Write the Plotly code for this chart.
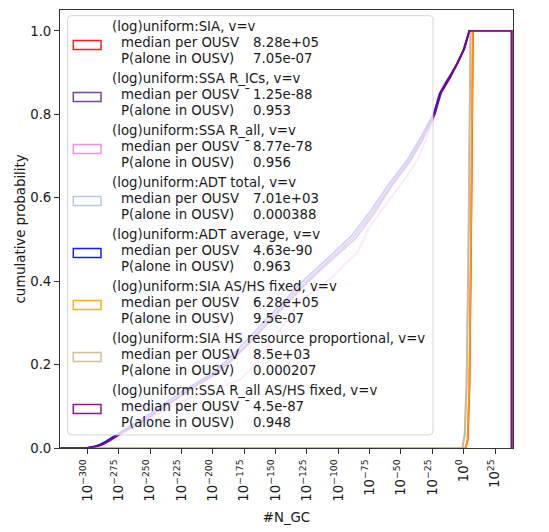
import plotly.graph_objects as go

# cumulative histograms of #N_GC, x values stored as log10(N_GC)
series_names = [
    "(log)uniform:SIA, v=v",
    "(log)uniform:SSA R_ICs, v=v",
    "(log)uniform:SSA R_all, v=v",
    "(log)uniform:ADT total, v=v",
    "(log)uniform:ADT average, v=v",
    "(log)uniform:SIA AS/HS fixed, v=v",
    "(log)uniform:SIA HS resource proportional, v=v",
    "(log)uniform:SSA R_all AS/HS fixed, v=v",
]
median_per_ousv = ["8.28e+05", "1.25e-88", "8.77e-78", "7.01e+03",
                   "4.63e-90", "6.28e+05", "8.5e+03", "4.5e-87"]
p_alone = ["7.05e-07", "0.953", "0.956", "0.000388",
           "0.963", "9.5e-07", "0.000207", "0.948"]
has_macron = [False, True, True, False, False, False, False, True]

# first / last histogram bin edge (log10)
bin_lo, bin_hi = -321.5, 38.3

sia_x = [1.5, 3.2, 4.6, 5.9, 6.7, 7.4]
sia_y = [0, 0.02, 0.15, 0.5, 0.85, 1.0]

ssa_rics_x = [-300, -294, -289, -284, -278, -270, -261, -252, -239, -225, -212, -199, -186,
              -172, -156, -144, -129, -116, -103, -88, -74, -58, -44, -34, -26, -23.5, -18,
              -11, -5, 0.5, 4.5]
ssa_rics_y = [0, 0.003, 0.008, 0.015, 0.027, 0.043, 0.058, 0.074, 0.1, 0.128, 0.154, 0.178,
              0.21, 0.252, 0.305, 0.34, 0.39, 0.425, 0.462, 0.505, 0.56, 0.63, 0.687, 0.738,
              0.783, 0.80, 0.852, 0.887, 0.922, 0.957, 1.0]

ssa_rall_x = [-300, -290, -279, -262, -245, -226, -210, -195, -178, -165, -150, -140, -130,
              -117, -104, -95, -85, -75, -59, -48, -37, -30, -24.4, -20, -15, -8, -2, 4.5]
ssa_rall_y = [0, 0.006, 0.026, 0.052, 0.08, 0.11, 0.13, 0.145, 0.164, 0.205, 0.27, 0.31,
              0.355, 0.38, 0.411, 0.44, 0.467, 0.53, 0.596, 0.64, 0.69, 0.74, 0.787, 0.845,
              0.875, 0.905, 0.94, 1.0]

adt_total_x = [-1.2, 0.7, 2.3, 3.85, 4.7, 5.4]
adt_total_y = [0, 0.03, 0.16, 0.5, 0.85, 1.0]

adt_avg_x = [-300, -295, -290, -285, -279, -270, -262, -253, -240, -226, -213, -200, -187,
             -173, -157, -145, -130, -117, -104, -89, -75, -59, -45, -35, -27, -24, -19,
             -12, -5.5, 0, 4.5]
adt_avg_y = [0, 0.003, 0.008, 0.016, 0.028, 0.045, 0.06, 0.076, 0.103, 0.132, 0.156, 0.18,
             0.215, 0.258, 0.31, 0.345, 0.395, 0.43, 0.467, 0.51, 0.565, 0.635, 0.69, 0.74,
             0.785, 0.80, 0.85, 0.885, 0.92, 0.955, 1.0]

sia_fixed_x = [1.6, 3.1, 4.5, 5.8, 6.6, 7.2]
sia_fixed_y = [0, 0.02, 0.15, 0.5, 0.85, 1.0]

sia_hs_x = [-1.0, 0.8, 2.4, 3.9, 4.7, 5.4]
sia_hs_y = [0, 0.03, 0.16, 0.5, 0.85, 1.0]

ssa_fixed_x = [-300, -294, -288, -283, -277, -268, -259, -250, -237, -223, -210, -197, -184,
               -170, -154, -142, -127, -114, -101, -86, -72, -57, -43, -33, -26, -23, -18,
               -11, -5, 0.5, 4.5]
ssa_fixed_y = [0, 0.003, 0.008, 0.016, 0.028, 0.044, 0.059, 0.075, 0.101, 0.13, 0.155,
               0.178, 0.212, 0.254, 0.306, 0.342, 0.39, 0.427, 0.463, 0.503, 0.56, 0.63,
               0.686, 0.737, 0.782, 0.80, 0.853, 0.888, 0.923, 0.957, 1.0]

curves = [(sia_x, sia_y), (ssa_rics_x, ssa_rics_y), (ssa_rall_x, ssa_rall_y),
          (adt_total_x, adt_total_y), (adt_avg_x, adt_avg_y), (sia_fixed_x, sia_fixed_y),
          (sia_hs_x, sia_hs_y), (ssa_fixed_x, ssa_fixed_y)]

x_tick_exps = [-300, -275, -250, -225, -200, -175, -150, -125, -100, -75, -50, -25, 0, 25]

colors = ["rgba(255,0,0,0.9)", "rgba(102,51,153,0.9)", "rgba(238,130,238,0.9)",
          "rgba(176,196,222,0.9)", "rgba(0,0,255,0.9)", "rgba(255,165,0,0.9)",
          "rgba(210,180,140,0.9)", "rgba(128,0,128,0.9)"]

FONT = "DejaVu Sans"
OFF = 8  # page body margin of the html page
W, H = 549 - OFF, 532 - OFF
L, T, PW, PH = 60 - OFF, 10 - OFF, 453, 438


def px(x):
    # page pixel -> paper fraction
    return (x - OFF - L) / PW


def py(y):
    return (T + PH - (y - OFF)) / PH


fig = go.Figure()
for (xs, ys), name, col in zip(curves, series_names, colors):
    # step histogram outline: starts at first edge, drops back to 0 at last edge
    fig.add_trace(go.Scatter(
        x=[bin_lo] + xs + [bin_hi, bin_hi],
        y=[0] + ys + [1.0, 0],
        mode="lines", name=name, showlegend=False,
        line=dict(color=col, width=1.8),
    ))

# legend drawn by hand so it looks like the matplotlib one
shapes = []
x0, x1, y0, y1, r = 67.5, 433, 15.7, 435, 4
frame = (f"M {px(x0 + r)},{py(y0)} L {px(x1 - r)},{py(y0)} "
         f"Q {px(x1)},{py(y0)} {px(x1)},{py(y0 + r)} L {px(x1)},{py(y1 - r)} "
         f"Q {px(x1)},{py(y1)} {px(x1 - r)},{py(y1)} L {px(x0 + r)},{py(y1)} "
         f"Q {px(x0)},{py(y1)} {px(x0)},{py(y1 - r)} L {px(x0)},{py(y0 + r)} "
         f"Q {px(x0)},{py(y0)} {px(x0 + r)},{py(y0)} Z")
shapes.append(dict(type="path", path=frame, xref="paper", yref="paper", layer="above",
                   fillcolor="rgba(255,255,255,0.8)",
                   line=dict(color="rgba(204,204,204,0.8)", width=1)))

annotations = []
step = 52
for i, name in enumerate(series_names):
    c = 26.7 + step * i
    shapes.append(dict(type="rect", xref="paper", yref="paper", layer="above",
                       x0=px(73.3), x1=px(101), y0=py(c + 13.8), y1=py(c + 22.8),
                       line=dict(color=colors[i], width=1.5),
                       fillcolor="rgba(0,0,0,0)"))
    rows = [(111.3, c, name),
            (120.1, c + 16, "median per OUSV"),
            (251.7, c + 16, median_per_ousv[i]),
            (120.1, c + 32, "P(alone in OUSV)"),
            (251.7, c + 32, p_alone[i])]
    for xx, yy, txt in rows:
        annotations.append(dict(x=px(xx), y=py(yy), xref="paper", yref="paper",
                                text=txt, showarrow=False, xanchor="left",
                                yanchor="middle", borderpad=0,
                                font=dict(family=FONT, size=13.3, color="#1a1a1a")))
    if has_macron[i]:
        annotations.append(dict(x=px(251.5), y=py(c + 16), xref="paper", yref="paper",
                                text="\u00af", showarrow=False, xanchor="right",
                                yanchor="middle", borderpad=0,
                                font=dict(family=FONT, size=13.3, color="#1a1a1a")))

tick_text = [f"10<sup>{'−' if e < 0 else ''}{abs(e)}</sup>" for e in x_tick_exps]

fig.update_layout(
    width=W, height=H,
    margin=dict(l=L, r=W - L - PW, t=T, b=H - T - PH),
    paper_bgcolor="white", plot_bgcolor="white",
    font=dict(family=FONT, size=13.3, color="#1a1a1a"),
    shapes=shapes, annotations=annotations,
    xaxis=dict(
        range=[-321.8, 39.3], tickvals=x_tick_exps, ticktext=tick_text, tickangle=-90,
        ticks="outside", ticklen=5, tickcolor="#333", showline=True, mirror=True,
        linecolor="#333", linewidth=1, showgrid=False, zeroline=False,
        title=dict(text="#N_GC", standoff=11, font=dict(size=13.3)),
    ),
    yaxis=dict(
        range=[0, 1.05], tick0=0, dtick=0.2, tickformat=".1f",
        ticks="outside", ticklen=5, tickcolor="#333", showline=True, mirror=True,
        linecolor="#333", linewidth=1, showgrid=False, zeroline=False,
        title=dict(text="cumulative probability", standoff=1, font=dict(size=13.3)),
    ),
)

fig.write_html("out.html")
